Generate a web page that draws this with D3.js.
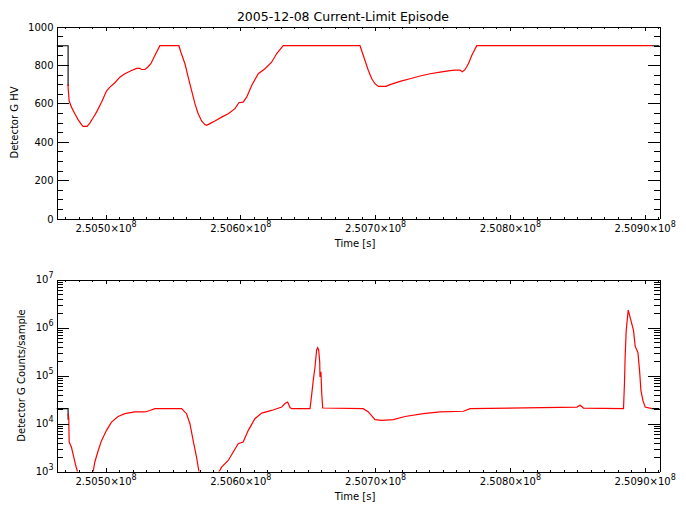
<!DOCTYPE html>
<html><head><meta charset="utf-8">
<script src="https://cdn.jsdelivr.net/npm/d3@7"></script>
<style>
body{margin:0;background:#fff}
svg{display:block;background:#fff}
text{font-family:"DejaVu Sans",sans-serif;fill:#000}
</style>
</head><body>
<svg id="c" width="686" height="511"></svg>
<script>
// ---------- data ----------
const title = "2005-12-08 Current-Limit Episode";
const xTitle = "Time [s]";
const yTitleTop = "Detector G HV";
const yTitleBot = "Detector G Counts/sample";
const timeDomain = [250463600, 250911000];
const xMajorTicks = [250500000, 250600000, 250700000, 250800000, 250900000];
const hvTicks = [0, 200, 400, 600, 800, 1000];
const countTicks = [1e3, 1e4, 1e5, 1e6, 1e7];

// HV trace (red)
const hvTime = [250472200,250472200,250473000,250474700,250477200,250479600,250482200,250483300,250486300,250488300,250490800,250493300,250497000,250500700,250503200,250506900,250510600,250514300,250519300,250523000,250525400,250526700,250529200,250531200,250533600,250536600,250540300,250554400,250555900,250558900,250561300,250563800,250566300,250568700,250571300,250573700,250575000,250577400,250581100,250586100,250591000,250596000,250598900,250602100,250604700,250608400,250613300,250618300,250623200,250626900,250631800,250688800,250690000,250692500,250695000,250697500,250699900,250702400,250708100,250711100,250718500,250725900,250733300,250740800,250748200,250755600,250759300,250763000,250764700,250766700,250769200,250771700,250775400,250905400];
const hvValue = [700,684,612,580,546,515,489,480,480,497,525,554,606,664,684,707,736,754,771,782,782,776,776,788,806,849,900,900,866,806,736,667,598,546,508,489,485,494,508,528,546,572,603,606,632,693,754,780,814,858,900,900,875,823,771,728,702,688,688,697,714,728,742,754,762,770,773,773,764,775,806,849,900,900];
// HV trace (black, unselected samples)
const hvBlackTime = [250463600,250472200,250472200];
const hvBlackValue = [900,900,690];
const hvBlackTime2 = [250905400,250911000];
const hvBlackValue2 = [900,900];

// Counts trace (red)
const cntTime = [250472200,250472700,250473000,250474700,250476400,250477900,250479200,250482200,250486800,250490800,250492000,250494500,250497000,250500700,250504400,250509300,250514300,250521700,250529200,250532900,250536600,250556400,250560100,250562600,250565000,250567500,250569300,250573700,250580400,250584300,250586100,250591000,250598400,250602100,250605900,250610800,250615800,250623200,250630700,250633100,250635100,250636800,250638100,250651700,250652900,250654100,250655400,250656600,250657400,250658100,250658900,250659100,250659800,250660400,250661100,250691200,250695000,250699900,250704900,250713500,250722200,250735800,250748200,250765500,250770500,250849700,250852100,250854600,250884300,250885000,250885500,250886300,250887800,250891700,250893000,250894200,250895000,250896200,250897200,250898700,250900400,250905400];
const cntValue = [16000,12600,4100,3200,2000,1330,1000,550,550,1000,1560,2700,4400,7200,10700,14000,16000,17400,17400,18700,20400,20400,16000,9900,4400,2000,1000,500,500,1000,1230,1700,3800,4100,7200,12600,16500,18700,22000,26000,28000,21500,20400,20400,39000,79000,150000,340000,380000,340000,190000,93000,120000,42000,21000,20400,17400,12000,11600,12000,14000,16000,17400,18000,20400,22000,24000,21000,20400,68000,240000,870000,2300000,870000,400000,340000,300000,128000,49000,30000,22000,20400];
const cntBlackTime = [250463600,250472200,250472200];
const cntBlackValue = [20400,20400,12000];
const cntBlackTime2 = [250905400,250911000];
const cntBlackValue2 = [20400,20400];

// ---------- drawing ----------
const svg = d3.select("#c");
svg.append("rect").attr("width",686).attr("height",511).attr("fill","#fff");

const X0 = 56.5, X1 = 659.5;
const x = d3.scaleLinear().domain(timeDomain).range([X0, X1]);
const yTop = d3.scaleLinear().domain([0, 1000]).range([218.5, 26.5]);
const yBot = d3.scaleLog().domain([1e3, 1e7]).range([471.5, 279.5]);

const xMinor = d3.range(250470000, 250911000, 10000).filter(v => !xMajorTicks.includes(v));
const hvMinor = d3.range(0, 1001, 50).filter(v => v % 200 !== 0);
const cntMinor = [];
for (let e = 3; e < 7; e++) for (let k = 2; k <= 9; k++) cntMinor.push(k * Math.pow(10, e));

svg.append("text").attr("x", 343).attr("y", 21).attr("text-anchor","middle")
  .attr("font-size", "12.5px").text(title);

function styleAxis(g){
  g.selectAll("path,line").attr("stroke","#000").attr("stroke-width",1).attr("shape-rendering","crispEdges");
  g.selectAll("text").attr("font-family","DejaVu Sans, sans-serif").attr("fill","#000");
}

function panel(id, y, majorY, minorY, yLabelFn, yTitle, yTitleX, bottomY, topY, redT, redV, blackSets){
  const g = svg.append("g").attr("id", id);
  const clipId = id + "clip";
  svg.append("clipPath").attr("id", clipId).append("rect")
    .attr("x", X0).attr("y", topY).attr("width", X1 - X0).attr("height", bottomY - topY);

  const line = d3.line().x(d => x(d[0])).y(d => y(d[1]));
  const plot = g.append("g").attr("clip-path", `url(#${clipId})`);
  blackSets.forEach(([tt, vv]) => {
    plot.append("path").datum(tt.map((t,i)=>[t, vv[i]])).attr("d", line)
      .attr("fill","none").attr("stroke","#000").attr("stroke-width",1.1);
  });
  plot.append("path").datum(redT.map((t,i)=>[t, redV[i]])).attr("d", line)
    .attr("fill","none").attr("stroke","#ff0000").attr("stroke-width",1.2);

  // bottom axis
  const ab = g.append("g").attr("transform",`translate(0,${bottomY})`)
    .call(d3.axisBottom(x).tickValues(xMajorTicks).tickSizeInner(-4).tickSizeOuter(0).tickPadding(6)
      .tickFormat(d => d3.format(".4f")(d / 1e8)));
  ab.selectAll(".tick text").attr("font-size","10px").attr("dy","0.71em").each(function(d){
    const t = d3.select(this); const s = t.text(); t.text(null);
    t.append("tspan").text(s + "×10");
    t.append("tspan").attr("dy","-5").attr("font-size","8px").text("8");
  });
  styleAxis(ab);
  const abm = g.append("g").attr("transform",`translate(0,${bottomY})`)
    .call(d3.axisBottom(x).tickValues(xMinor).tickSizeInner(-2).tickSizeOuter(0).tickFormat(""));
  abm.select(".domain").remove(); styleAxis(abm);
  // top axis
  const at = g.append("g").attr("transform",`translate(0,${topY})`)
    .call(d3.axisTop(x).tickValues(xMajorTicks).tickSizeInner(-4).tickSizeOuter(0).tickFormat(""));
  styleAxis(at);
  const atm = g.append("g").attr("transform",`translate(0,${topY})`)
    .call(d3.axisTop(x).tickValues(xMinor).tickSizeInner(-2).tickSizeOuter(0).tickFormat(""));
  atm.select(".domain").remove(); styleAxis(atm);
  // left axis
  const al = g.append("g").attr("transform",`translate(${X0},0)`)
    .call(d3.axisLeft(y).tickValues(majorY).tickSizeInner(-12).tickSizeOuter(0).tickPadding(3).tickFormat(""));
  al.selectAll(".tick text").attr("font-size","10px").each(function(d){ yLabelFn(d3.select(this), d); });
  styleAxis(al);
  const alm = g.append("g").attr("transform",`translate(${X0},0)`)
    .call(d3.axisLeft(y).tickValues(minorY).tickSizeInner(-6).tickSizeOuter(0).tickFormat(""));
  alm.select(".domain").remove(); styleAxis(alm);
  // right axis
  const ar = g.append("g").attr("transform",`translate(${X1},0)`)
    .call(d3.axisRight(y).tickValues(majorY).tickSizeInner(-12).tickSizeOuter(0).tickFormat(""));
  styleAxis(ar);
  const arm = g.append("g").attr("transform",`translate(${X1},0)`)
    .call(d3.axisRight(y).tickValues(minorY).tickSizeInner(-6).tickSizeOuter(0).tickFormat(""));
  arm.select(".domain").remove(); styleAxis(arm);

  // titles
  g.append("text").attr("x", 355).attr("y", bottomY + 28).attr("text-anchor","middle")
    .attr("font-size","10px").text(xTitle);
  g.append("text").attr("transform",`translate(${yTitleX},${(topY+bottomY)/2}) rotate(-90)`)
    .attr("text-anchor","middle").attr("font-size","10px").text(yTitle);
}

panel("top", yTop, hvTicks, hvMinor,
  (t, d) => { t.text(String(d)).attr("dy","0.35em"); },
  yTitleTop, 17.8, 218.5, 26.5, hvTime, hvValue,
  [[hvBlackTime, hvBlackValue],[hvBlackTime2, hvBlackValue2]]);

panel("bot", yBot, countTicks, cntMinor,
  (t, d) => {
    t.text(null).attr("dy","0.3em");
    t.append("tspan").text("10");
    t.append("tspan").attr("dy","-5").attr("font-size","8px").text(String(Math.round(Math.log10(d))));
  },
  yTitleBot, 24.8, 471.5, 279.5, cntTime, cntValue,
  [[cntBlackTime, cntBlackValue],[cntBlackTime2, cntBlackValue2]]);
</script>
</body></html>
